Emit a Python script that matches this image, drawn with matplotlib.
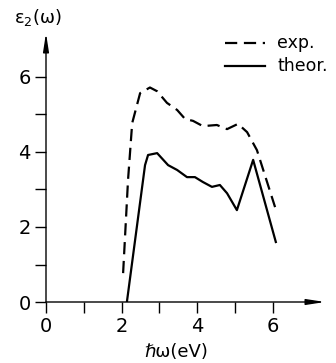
import matplotlib
matplotlib.use("Agg")
import matplotlib.pyplot as plt

plt.rcParams['font.family'] = ['DejaVu Sans']

# experimental curve (dashed)
exp_x = [2.04, 2.17, 2.28, 2.49, 2.75, 2.94, 3.20, 3.47, 3.68, 3.89, 4.15, 4.52, 4.79, 5.08, 5.32, 5.58, 6.06]
exp_y = [0.77, 3.25, 4.77, 5.57, 5.72, 5.62, 5.31, 5.12, 4.88, 4.83, 4.69, 4.72, 4.61, 4.75, 4.53, 4.05, 2.53]

# theoretical curve (solid)
th_x = [2.14, 2.62, 2.70, 2.94, 3.23, 3.47, 3.73, 3.94, 4.15, 4.39, 4.60, 4.79, 5.05, 5.48, 6.08]
th_y = [0.00, 3.65, 3.92, 3.97, 3.65, 3.52, 3.33, 3.33, 3.20, 3.07, 3.12, 2.90, 2.45, 3.79, 1.60]

W, H = 336, 363
fig = plt.figure(figsize=(W / 100, H / 100), dpi=100)
x0, y0 = 46, 302          # pixel position of data origin
ppx, ppy = 37.8, 37.5     # pixels per unit
xmax = (325 - x0) / ppx
ymax = (y0 - 33) / ppy
ax = fig.add_axes([x0 / W, (H - y0) / H, (325 - x0) / W, (y0 - 33) / H])
ax.set_xlim(0, xmax)
ax.set_ylim(0, ymax)

ax.plot(exp_x, exp_y, color='black', lw=1.6, ls=(0, (5.5, 3)), label='exp.')
ax.plot(th_x, th_y, color='black', lw=1.6, label='theor.')

for s in ax.spines.values():
    s.set_visible(False)
# axes with arrow heads
arrow = dict(arrowstyle='-|>,head_length=1.1,head_width=0.17', color='black', lw=1.0,
             shrinkA=0, shrinkB=0)
ax.annotate('', xy=(xmax, 0), xytext=(0, 0), arrowprops=arrow, annotation_clip=False)
ax.annotate('', xy=(0, ymax), xytext=(0, 0), arrowprops=arrow, annotation_clip=False)

ax.set_xticks([0, 2, 4, 6])
ax.set_xticks([1, 3, 5], minor=True)
ax.set_yticks([0, 2, 4, 6])
ax.set_yticks([1, 3, 5], minor=True)
ax.tick_params(which='both', direction='out', length=8, width=1.0, labelsize=14, pad=3)

fig.text(14 / W, 1 - 18 / H, 'ε$_2$(ω)', fontsize=13, va='center', ha='left')
fig.text(176 / W, 1 - 352 / H, 'ℏω(eV)', fontsize=13, va='center', ha='center')

# legend
fig.add_artist(plt.Line2D([225 / W, 265 / W], [1 - 43 / H] * 2, color='black', lw=1.6, ls=(0, (5.5, 3))))
fig.add_artist(plt.Line2D([225 / W, 265 / W], [1 - 66 / H] * 2, color='black', lw=1.6))
fig.text(277 / W, 1 - 43 / H, 'exp.', fontsize=12.5, va='center', ha='left')
fig.text(277 / W, 1 - 66 / H, 'theor.', fontsize=12.5, va='center', ha='left')

fig.savefig('out.png', dpi=100)
